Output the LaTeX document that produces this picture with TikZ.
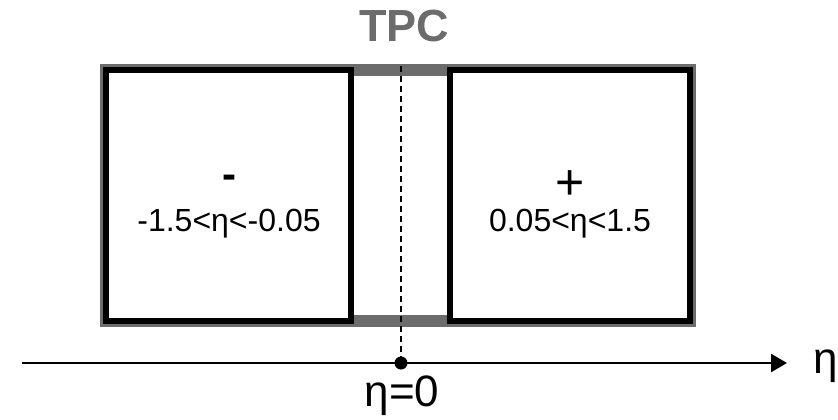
\documentclass[tikz,border=0pt]{standalone}
\usepackage{fontspec}
\setmainfont{Liberation Sans}
\usetikzlibrary{arrows.meta}
\definecolor{tpcgray}{RGB}{108,108,108}
\begin{document}
\begin{tikzpicture}[x=1pt,y=-1pt,
  calbox/.style={draw=black,fill=white,line width=6pt,inner sep=0pt,
    minimum height=251pt,anchor=center},
  rangelbl/.style={font=\fontsize{32}{36}\selectfont,inner sep=0pt},
  signlbl/.style={inner sep=0pt},
  axislbl/.style={font=\fontsize{44}{48}\selectfont,inner sep=0pt}]
\useasboundingbox (0,0) rectangle (838,420);
% TPC frame behind the two calorimeter halves
\node[draw=tpcgray,line width=12pt,inner sep=0pt,minimum width=584pt,
  minimum height=251pt] (frame) at (398,195.5) {};
\node[font=\bfseries\fontsize{45}{50}\selectfont,text=tpcgray,inner sep=0pt]
  (tpc) at (404,26) {TPC};
% calorimeter halves
\node[calbox,minimum width=245pt] (west) at (228.5,195.5) {};
\node[calbox,minimum width=240pt] (east) at (570,195.5) {};
\node[signlbl,font=\bfseries\fontsize{42}{46}\selectfont] (minus) at (229,182) {-};
\node[rangelbl] (wrange) at (229,224) {-1.5<η<-0.05};
\node[signlbl,font=\fontsize{50}{54}\selectfont] (plus) at (570,185) {+};
\node[rangelbl] (erange) at (570,224) {0.05<η<1.5};
% eta axis
\coordinate (axstart) at (22,363);
\coordinate (axend) at (787,363);
\coordinate (mid) at (401,363);
\coordinate (midtop) at (401,66);
\draw[line width=2.5pt,-{Triangle[length=16pt,width=18pt]}] (axstart) -- (axend);
\draw[line width=1.5pt,dash pattern=on 6pt off 4pt] (midtop) -- (mid);
\fill (mid) circle (6.5pt);
\node[axislbl,anchor=west] (etalbl) at (813,366) {η};
\node[axislbl] (zerolbl) at (402,396) {η=0};
\end{tikzpicture}
\end{document}
